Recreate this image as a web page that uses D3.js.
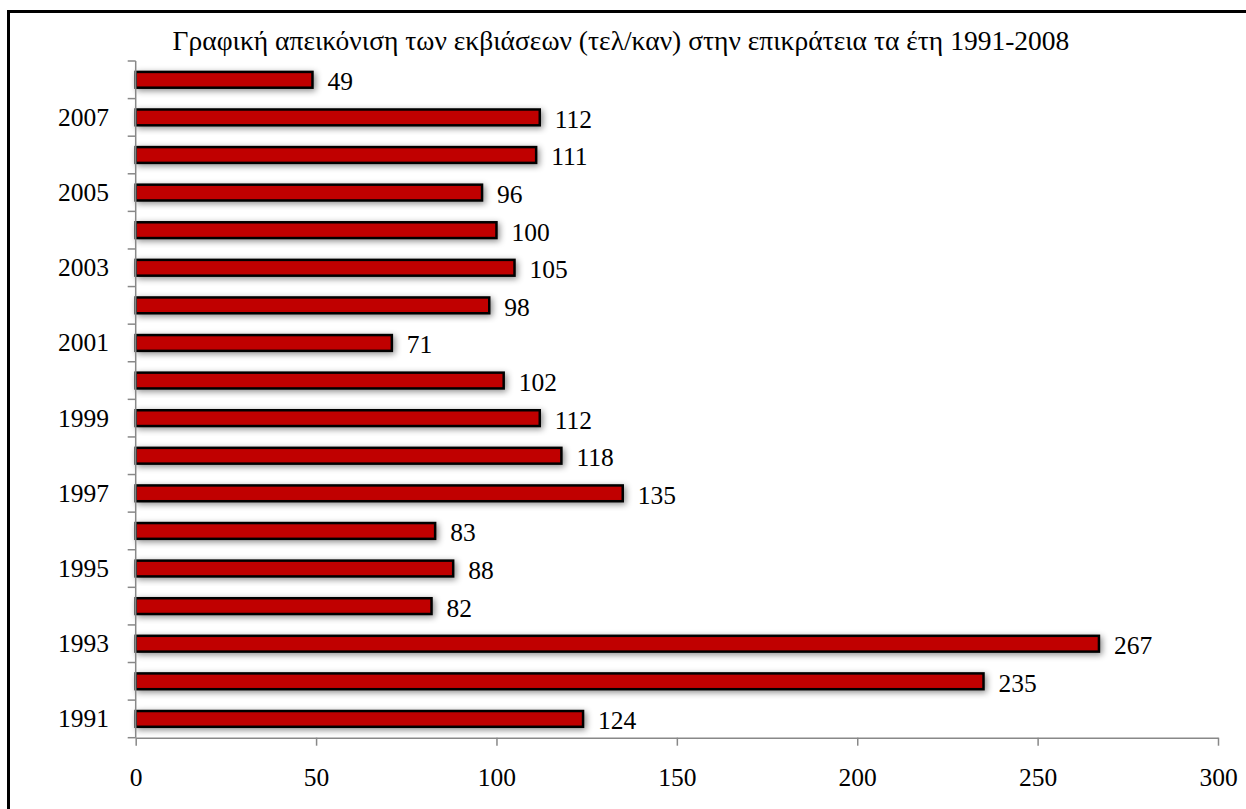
<!DOCTYPE html>
<html><head><meta charset="utf-8">
<script src="https://cdn.jsdelivr.net/npm/d3@7"></script>
<style>body{margin:0;background:#fff}svg{display:block}text{font-family:"Liberation Serif","Times New Roman",serif}</style>
</head><body>
<script>
const years = [1991,1992,1993,1994,1995,1996,1997,1998,1999,2000,2001,2002,2003,2004,2005,2006,2007,2008];
const values = [124,235,267,82,88,83,135,118,112,102,71,98,105,100,96,111,112,49];
const xTicks = [0,50,100,150,200,250,300];
const yLabelYears = [1991,1993,1995,1997,1999,2001,2003,2005,2007];
const title = "Γραφική απεικόνιση των εκβιάσεων (τελ/καν) στην επικράτεια τα έτη 1991-2008";

const W=1246,H=809;
const svg=d3.select("body").append("svg").attr("width",W).attr("height",H);
const defs=svg.append("defs");
const f=defs.append("filter").attr("id","sh").attr("x","-10%").attr("y","-60%").attr("width","120%").attr("height","220%");
f.append("feDropShadow").attr("dx",2).attr("dy",2).attr("stdDeviation",3).attr("flood-color","#000").attr("flood-opacity",0.45);

// frame (top and left edges visible)
svg.append("line").attr("x1",8.5).attr("x2",W).attr("y1",11.5).attr("y2",11.5).attr("stroke","#000").attr("stroke-width",3);
svg.append("line").attr("x1",8.5).attr("x2",8.5).attr("y1",10).attr("y2",H).attr("stroke","#000").attr("stroke-width",3);

const pL=135.7,pR=1218,pT=61,pB=737.7;
const x=d3.scaleLinear().domain([0,300]).range([pL,pR]);
const y=d3.scaleBand().domain(years.slice().reverse()).range([pT,pB]).padding(0);

const t=svg.append("text").attr("x",621).attr("y",40).attr("text-anchor","middle").attr("dominant-baseline","central")
  .attr("font-size",22).text(title);
// fit title width to reference (~897px)
const tw=t.node().getComputedTextLength();
t.attr("font-size",22*897/tw);

// bars
const bh=y.bandwidth()*0.42;
svg.append("g").selectAll("rect").data(years).join("rect")
  .attr("x",x(0)).attr("y",d=>y(d)+y.bandwidth()/2-bh/2)
  .attr("width",(d,i)=>x(values[i])-x(0)).attr("height",bh)
  .attr("fill","#c00000").attr("stroke","#000").attr("stroke-width",2.5).attr("filter","url(#sh)");

// value labels
svg.append("g").selectAll("text").data(years).join("text")
  .attr("x",(d,i)=>x(values[i])+15).attr("y",d=>y(d)+y.bandwidth()/2+2)
  .attr("dominant-baseline","central").attr("font-size",25.5).text((d,i)=>values[i]);

// y axis
const ya=svg.append("g");
ya.append("line").attr("x1",pL).attr("x2",pL).attr("y1",pT).attr("y2",pB).attr("stroke","#888").attr("stroke-width",1.5);
const bounds=d3.range(years.length+1).map(i=>pT+i*y.step());
ya.selectAll("line.t").data(bounds).join("line").attr("class","t")
  .attr("x1",pL-8).attr("x2",pL).attr("y1",d=>d).attr("y2",d=>d).attr("stroke","#888").attr("stroke-width",1.5);
ya.selectAll("text").data(yLabelYears).join("text")
  .attr("x",109).attr("y",d=>y(d)+y.bandwidth()/2).attr("text-anchor","end").attr("dominant-baseline","central")
  .attr("font-size",25.5).text(d=>d);

// x axis
const xa=svg.append("g").attr("transform",`translate(0,${pB})`)
  .call(d3.axisBottom(x).tickValues(xTicks).tickSize(8).tickSizeOuter(0).tickPadding(22));
xa.select(".domain").attr("stroke","#888").attr("stroke-width",1.5);
xa.selectAll(".tick line").attr("stroke","#888").attr("stroke-width",1.5);
xa.selectAll(".tick text").attr("font-size",25.5).attr("fill","#000").attr("font-family","Liberation Serif");
</script>
</body></html>
